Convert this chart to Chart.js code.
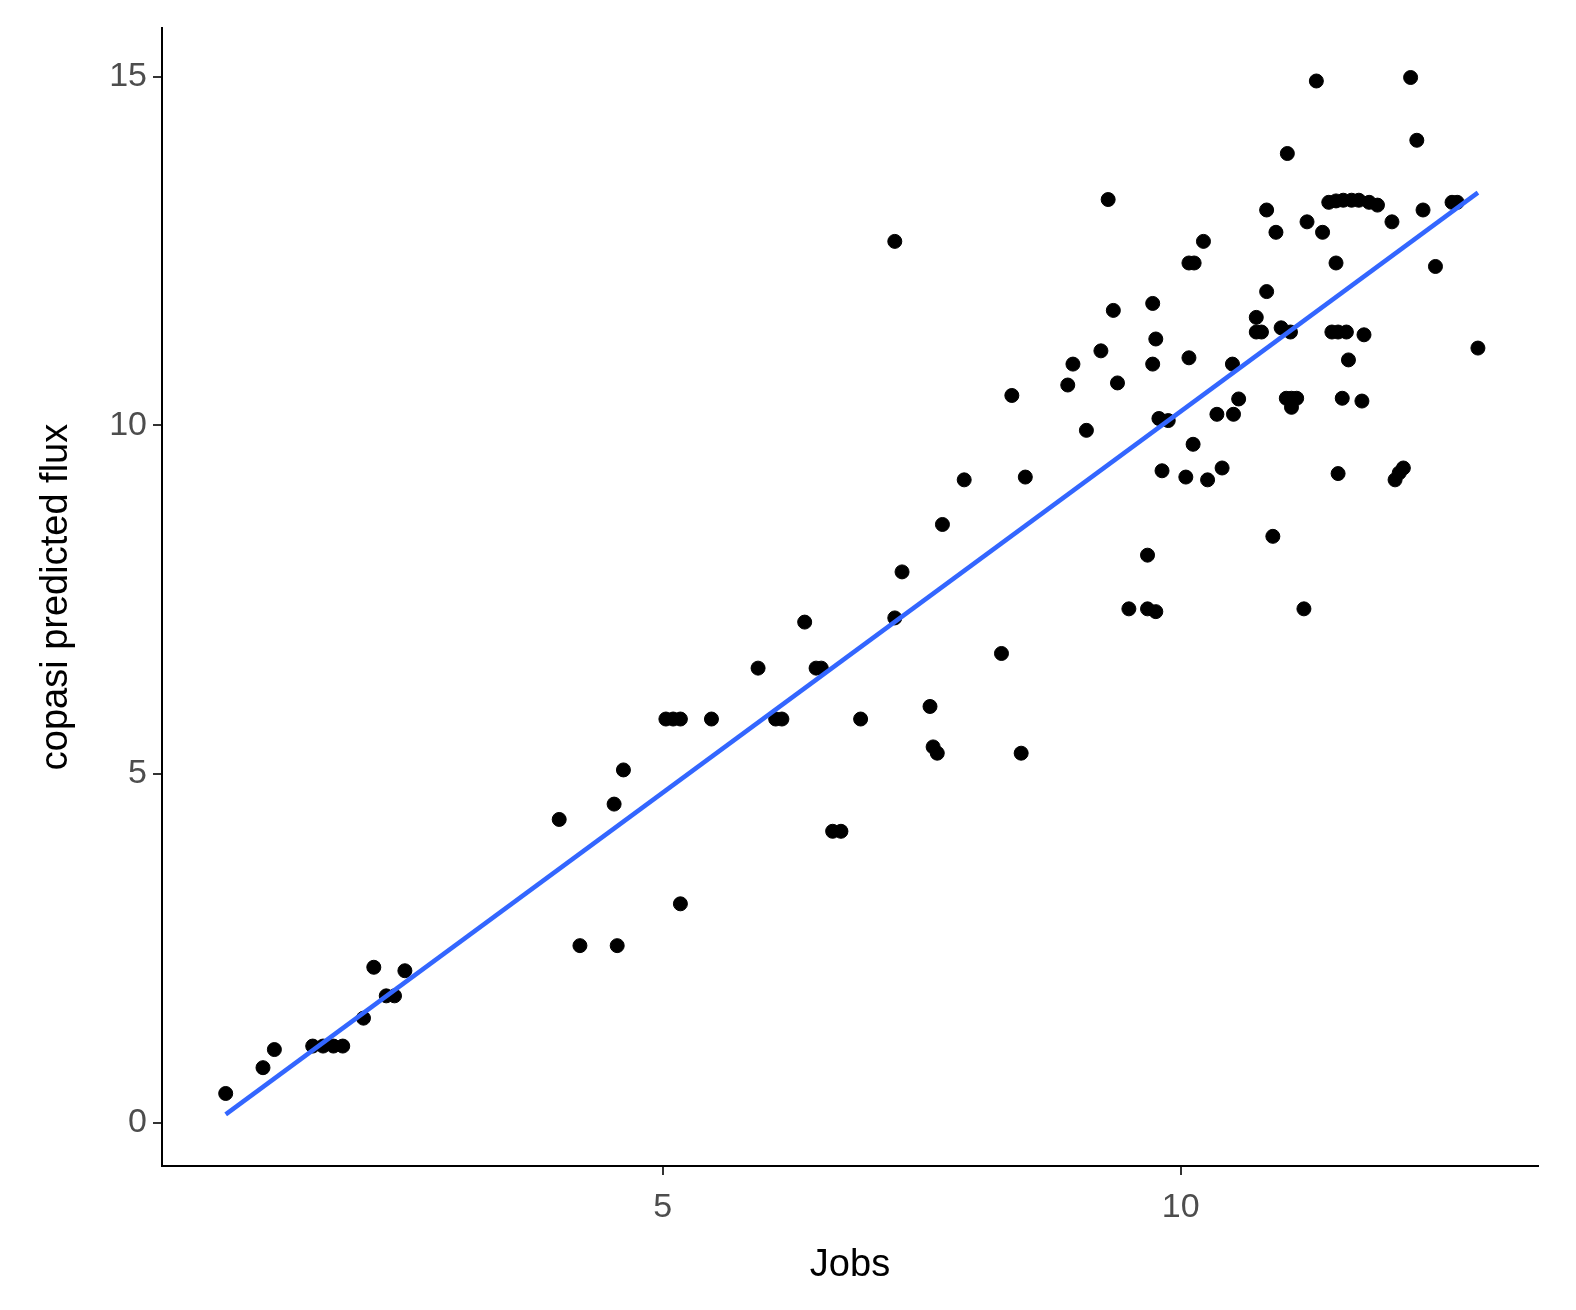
<!DOCTYPE html>
<html>
<head>
<meta charset="utf-8">
<script src="https://cdn.jsdelivr.net/npm/chart.js@4"></script>
<style>
  html, body { margin: 0; padding: 0; background: #fff; }
  #wrap { width: 1576px; height: 1310px; }
</style>
</head>
<body>
<div id="wrap"><canvas id="chart"></canvas></div>
<script>
// scatter points
const jobs = [0.78,1.14,1.25,1.62,1.72,1.82,1.91,2.11,2.21,2.33,2.41,2.51,4.0,4.2,4.53,4.56,4.62,5.03,5.10,5.17,5.17,5.47,5.92,6.09,6.15,6.37,6.48,6.53,6.64,6.72,6.91,7.24,7.24,7.31,7.58,7.61,7.65,7.70,7.91,8.27,8.37,8.46,8.50,8.91,8.96,9.09,9.23,9.30,9.35,9.39,9.50,9.68,9.68,9.76,9.73,9.73,9.76,9.79,9.82,9.88,10.05,10.08,10.08,10.13,10.12,10.22,10.26,10.35,10.40,10.50,10.51,10.56,10.73,10.73,10.78,10.83,10.83,10.89,10.92,10.97,11.03,11.02,11.07,11.12,11.06,11.07,11.19,11.22,11.31,11.37,11.43,11.50,11.57,11.65,11.72,11.50,11.46,11.52,11.60,11.52,11.56,11.62,11.75,11.77,11.82,11.90,12.04,12.07,12.11,12.15,12.22,12.28,12.34,12.46,12.62,12.67,12.87];
const flux = [0.42,0.79,1.05,1.10,1.10,1.10,1.10,1.50,2.23,1.82,1.82,2.18,4.35,2.54,4.57,2.54,5.06,5.79,5.79,5.79,3.14,5.79,6.52,5.79,5.79,7.18,6.52,6.52,4.18,4.18,5.79,12.64,7.24,7.90,5.97,5.39,5.30,8.58,9.22,6.73,10.43,5.30,9.26,10.58,10.88,9.93,11.07,13.24,11.65,10.61,7.37,8.14,7.37,7.33,11.75,10.88,11.24,10.10,9.35,10.07,9.26,10.97,12.33,12.33,9.73,12.64,9.22,10.16,9.39,10.88,10.16,10.38,11.55,11.34,11.34,13.09,11.92,8.41,12.77,11.40,13.90,10.39,10.39,10.39,11.34,10.26,7.37,12.92,14.94,12.77,13.2,13.22,13.23,13.23,13.23,12.33,11.34,11.34,11.34,9.31,10.39,10.94,10.35,11.30,13.2,13.16,12.92,9.22,9.32,9.39,14.99,14.09,13.09,12.28,13.2,13.2,11.11];
// fitted line ends
const fitX = [0.78, 12.87];
const fitY = [0.12, 13.34];
const xTicks = [5, 10];
const yTicks = [0, 5, 10, 15];

const points = jobs.map((x, i) => ({ x: x, y: flux[i] }));
const fitLine = fitX.map((x, i) => ({ x: x, y: fitY[i] }));

function axisCommon(tickList) {
    return {
        type: 'linear',
        border: { color: '#000', width: 2 },
        grid: { drawOnChartArea: false, color: '#333', lineWidth: 2, tickLength: 9 },
        ticks: { color: '#4d4d4d', font: { family: 'Arial, Liberation Sans', size: 34 }, padding: 6 },
        afterBuildTicks: axis => { axis.ticks = tickList.map(v => ({ value: v })); }
    };
}

const xScale = axisCommon(xTicks);
xScale.min = 0.165; xScale.max = 13.45;
xScale.ticks.padding = 12;
xScale.title = { display: true, text: 'Jobs', color: '#000', font: { family: 'Arial, Liberation Sans', size: 38 }, padding: { top: 10, bottom: 22 } };
xScale.afterFit = axis => { axis.height = 144; };

const yScale = axisCommon(yTicks);
yScale.min = -0.62; yScale.max = 15.7;
yScale.title = { display: true, text: 'copasi predicted flux', color: '#000', font: { family: 'Arial, Liberation Sans', size: 38 }, padding: { top: 34, bottom: 10 } };
yScale.afterFit = axis => { axis.width = 162; };

new Chart(document.getElementById('chart'), {
    type: 'scatter',
    data: {
        datasets: [{
            data: points,
            backgroundColor: '#000',
            borderColor: '#000',
            pointRadius: 7,
            order: 2
        }, {
            type: 'line',
            data: fitLine,
            borderColor: '#3366ff',
            borderWidth: 4.5,
            pointRadius: 0,
            fill: false,
            order: 1
        }]
    },
    options: {
        responsive: true,
        maintainAspectRatio: false,
        animation: false,
        layout: { padding: { top: 28, right: 38, left: 0, bottom: 0 } },
        plugins: { legend: { display: false }, tooltip: { enabled: false } },
        scales: { x: xScale, y: yScale }
    }
});
</script>
</body>
</html>
